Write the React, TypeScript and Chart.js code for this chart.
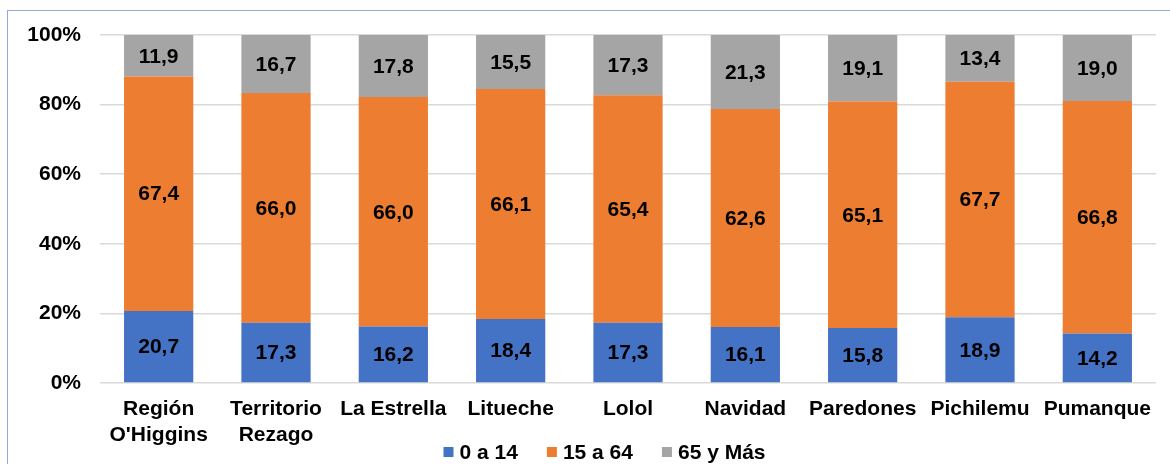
import React, { useEffect, useRef } from "react";
import { Chart, registerables } from "chart.js";

Chart.register(...registerables);

const categories: (string | string[])[] = [
  ["Región", "O'Higgins"],
  ["Territorio", "Rezago"],
  "La Estrella",
  "Litueche",
  "Lolol",
  "Navidad",
  "Paredones",
  "Pichilemu",
  "Pumanque",
];
const seriesNames = ["0 a 14", "15 a 64", "65 y Más"];
const age0to14 = [20.7, 17.3, 16.2, 18.4, 17.3, 16.1, 15.8, 18.9, 14.2];
const age15to64 = [67.4, 66.0, 66.0, 66.1, 65.4, 62.6, 65.1, 67.7, 66.8];
const age65plus = [11.9, 16.7, 17.8, 15.5, 17.3, 21.3, 19.1, 13.4, 19.0];
const yTicks = [0, 20, 40, 60, 80, 100];

const FONT = '"Liberation Sans", Arial, sans-serif';
const FS = 21;

const labelPlugin = {
  id: "segLabels",
  afterDatasetsDraw(chart: any) {
    const ctx = chart.ctx;
    ctx.save();
    ctx.font = `bold ${FS}px ${FONT}`;
    ctx.fillStyle = "#000000";
    ctx.textAlign = "center";
    ctx.textBaseline = "middle";
    chart.data.datasets.forEach((ds: any, di: number) => {
      const meta = chart.getDatasetMeta(di);
      meta.data.forEach((el: any, i: number) => {
        const v = ds.data[i] as number;
        const p = el.getProps(["x", "y", "base"], true);
        const cy = (p.y + p.base) / 2;
        ctx.fillText(v.toFixed(1).replace(".", ","), p.x, cy + 1);
      });
    });
    ctx.restore();
  },
};

const legendPlugin = {
  id: "customLegend",
  afterDraw(chart: any) {
    const ctx = chart.ctx;
    ctx.save();
    ctx.font = `bold ${FS}px ${FONT}`;
    ctx.textBaseline = "middle";
    ctx.textAlign = "left";
    const box = 10;
    const boxGap = 6;
    const itemGap = 29;
    const items = chart.data.datasets.map((ds: any) => ({
      label: ds.label as string,
      color: ds.backgroundColor as string,
      w: ctx.measureText(ds.label).width,
    }));
    const total =
      items.reduce((a: number, it: any) => a + box + boxGap + it.w, 0) + itemGap * (items.length - 1);
    let x = 596.5 - total / 2;
    const y = chart.chartArea.bottom + 69;
    items.forEach((it: any) => {
      ctx.fillStyle = it.color;
      ctx.fillRect(x, y - box / 2, box, box);
      ctx.fillStyle = "#000";
      ctx.fillText(it.label, x + box + boxGap, y + 1);
      x += box + boxGap + it.w + itemGap;
    });
    ctx.restore();
  },
};

export default function App() {
  const ref = useRef<HTMLCanvasElement | null>(null);
  useEffect(() => {
    if (!ref.current) return;
    const chart = new Chart(ref.current, {
      type: "bar",
      data: {
        labels: categories,
        datasets: [
          { label: seriesNames[0], data: age0to14, backgroundColor: "#4472C4" },
          { label: seriesNames[1], data: age15to64, backgroundColor: "#ED7D31" },
          { label: seriesNames[2], data: age65plus, backgroundColor: "#A5A5A5" },
        ],
      },
      options: {
        animation: false,
        responsive: false,
        maintainAspectRatio: false,
        devicePixelRatio: 1,
        datasets: { bar: { categoryPercentage: 1, barPercentage: 0.59 } },
        layout: { padding: { left: 0, right: 44, top: 24, bottom: 0 } },
        plugins: {
          tooltip: { enabled: false },
          legend: { display: false },
        },
        scales: {
          x: {
            stacked: true,
            afterFit: (s: any) => {
              s.height = 90;
            },
            grid: { display: false },
            border: { display: false },
            ticks: {
              color: "#000",
              padding: 6,
              maxRotation: 0,
              autoSkip: false,
              font: { family: FONT, size: FS, weight: "bold", lineHeight: 1.2 },
            },
          },
          y: {
            stacked: true,
            min: 0,
            max: 100,
            afterFit: (s: any) => {
              s.width = 92;
              s.paddingTop = 0;
              s.paddingBottom = 0;
            },
            afterBuildTicks: (s: any) => {
              s.ticks = yTicks.map((v) => ({ value: v }));
            },
            grid: { color: "#D9D9D9", lineWidth: 1.5, drawTicks: false },
            border: { display: false },
            ticks: {
              color: "#000",
              padding: 19,
              callback: (v: any) => `${v}%`,
              font: { family: FONT, size: FS, weight: "bold" },
            },
          },
        },
      },
      plugins: [labelPlugin, legendPlugin],
    });
    return () => chart.destroy();
  }, []);

  return (
    <div style={{ position: "fixed", inset: 0, overflow: "hidden", background: "#fff" }}>
      <div
        style={{
          position: "absolute",
          left: 7,
          top: 10,
          width: 1200,
          height: 500,
          border: "1px solid #8FAADC",
        }}
      >
        <canvas ref={ref} width={1192} height={462} style={{ display: "block", width: 1192, height: 462 }} />
      </div>
    </div>
  );
}
